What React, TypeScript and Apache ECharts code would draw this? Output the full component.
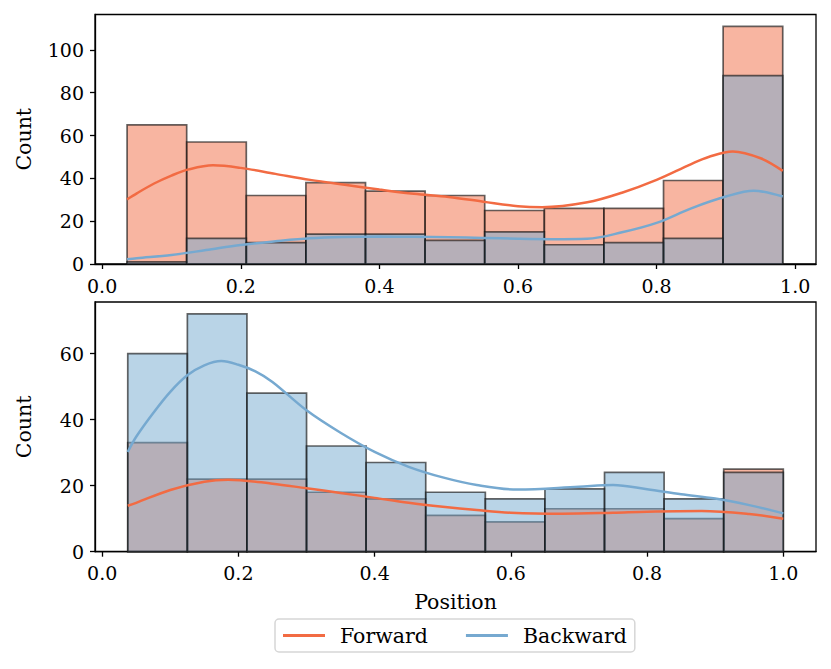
import React, { useEffect, useRef } from "react";
import * as echarts from "echarts";

// ---- data ----
const binCount = 11;
const topRange = [0.036, 0.982];
const bottomRange = [0.0376, 1.0];

const topForward = [65, 57, 32, 38, 34, 32, 25, 26, 26, 39, 111];
const topBackward = [1, 12, 10, 14, 14, 11, 15, 9, 10, 12, 88];
const bottomForward = [33, 22, 22, 18, 16, 11, 9, 13, 13, 10, 25];
const bottomBackward = [60, 72, 48, 32, 27, 18, 16, 19, 24, 16, 24];

const topForwardKde = [
  [0.036, 30.2], [0.05, 33.0], [0.075, 37.6], [0.1, 41.3], [0.125, 44.2], [0.16, 46.1],
  [0.2, 44.9], [0.25, 42.1], [0.3, 39.3], [0.35, 37.0], [0.4, 34.8],
  [0.45, 32.8], [0.5, 31.3], [0.55, 29.1], [0.6, 27.0], [0.635, 26.5], [0.7, 28.8],
  [0.75, 33.3], [0.8, 39.3], [0.85, 46.7], [0.875, 50.0], [0.91, 52.6],
  [0.95, 49.4], [0.982, 43.5],
];
const topBackwardKde = [
  [0.036, 2.2], [0.05, 2.7], [0.1, 4.2], [0.15, 6.5], [0.2, 8.9], [0.25, 10.6],
  [0.3, 12.0], [0.35, 12.6], [0.4, 12.8], [0.45, 12.7], [0.5, 12.5], [0.55, 12.2],
  [0.6, 11.8], [0.65, 11.6], [0.7, 11.8], [0.75, 14.8], [0.8, 19.2], [0.85, 26.0],
  [0.9, 31.5], [0.94, 34.2], [0.982, 31.5],
];
const bottomBackwardKde = [
  [0.0376, 30.2], [0.05, 34.8], [0.075, 42.0], [0.1, 48.4], [0.125, 53.4], [0.15, 56.4],
  [0.175, 57.7], [0.2, 56.6], [0.225, 54.6], [0.25, 51.4], [0.3, 42.8], [0.35, 36.0],
  [0.4, 30.2], [0.45, 25.7], [0.5, 22.5], [0.55, 20.2], [0.61, 18.8],
  [0.7, 19.7], [0.75, 20.2], [0.8, 18.9], [0.85, 17.4], [0.9, 16.1], [0.95, 14.1],
  [1.0, 11.6],
];
const bottomForwardKde = [
  [0.0376, 13.9], [0.05, 14.8], [0.1, 18.7], [0.15, 21.2], [0.185, 21.8],
  [0.25, 20.6], [0.3, 19.2], [0.35, 17.8], [0.4, 16.3], [0.45, 14.8], [0.5, 13.6],
  [0.55, 12.6], [0.6, 11.8], [0.675, 11.5], [0.75, 11.8], [0.8, 12.1],
  [0.88, 12.3], [0.95, 11.4], [1.0, 10.0],
];

const xTicks = [0, 0.2, 0.4, 0.6, 0.8, 1.0];
const topYTicks = [0, 20, 40, 60, 80, 100];
const bottomYTicks = [0, 20, 40, 60];

const FONT = "DejaVu Serif";
const TICK_FS = 19;
const LABEL_FS = 20.5;
const ORANGE = "#f26b43";
const BLUE = "#76a9d0";

function histData(range: number[], counts: number[]) {
  const w = (range[1] - range[0]) / binCount;
  return counts.map((c, i) => [range[0] + i * w, range[0] + (i + 1) * w, c]);
}

function histSeries(name: string, idx: number, data: number[][], fill: string) {
  return {
    type: "custom",
    name,
    xAxisIndex: idx,
    yAxisIndex: idx,
    data,
    encode: { x: [0, 1], y: 2 },
    z: 2,
    renderItem: (params: any, api: any) => {
      const p0 = api.coord([api.value(0), api.value(2)]);
      const p1 = api.coord([api.value(1), 0]);
      return {
        type: "rect",
        shape: { x: p0[0], y: p0[1], width: p1[0] - p0[0], height: p1[1] - p0[1] },
        style: { fill, stroke: "rgba(20,20,20,0.65)", lineWidth: 1.7 },
      };
    },
  };
}

function kdeSeries(name: string, idx: number, data: number[][], color: string) {
  return {
    type: "line",
    name,
    xAxisIndex: idx,
    yAxisIndex: idx,
    data,
    smooth: 0.35,
    showSymbol: false,
    symbol: "none",
    z: 5,
    color,
    lineStyle: { color, width: 2.5 },
  };
}

function xAxis(idx: number, min: number, max: number, withName: boolean) {
  return {
    type: "value",
    gridIndex: idx,
    min,
    max,
    name: withName ? "Position" : "",
    nameLocation: "middle",
    nameGap: 40,
    nameTextStyle: { fontFamily: FONT, fontSize: LABEL_FS, color: "#000" },
    axisLine: { show: true, onZero: false, lineStyle: { color: "#000", width: 1.3 } },
    axisTick: { show: true, length: 5, customValues: xTicks, lineStyle: { color: "#000", width: 1.3 } },
    axisLabel: {
      customValues: xTicks,
      formatter: (v: number) => v.toFixed(1),
      fontFamily: FONT,
      fontSize: TICK_FS,
      color: "#000",
      margin: 12,
    },
    splitLine: { show: false },
  };
}

function yAxis(idx: number, max: number, ticks: number[]) {
  return {
    type: "value",
    gridIndex: idx,
    min: 0,
    max,
    name: "Count",
    nameLocation: "middle",
    nameGap: 61,
    nameRotate: 90,
    nameTextStyle: { fontFamily: FONT, fontSize: LABEL_FS, color: "#000" },
    axisLine: { show: true, onZero: false, lineStyle: { color: "#000", width: 1.3 } },
    axisTick: { show: true, length: 5, customValues: ticks, lineStyle: { color: "#000", width: 1.3 } },
    axisLabel: {
      customValues: ticks,
      fontFamily: FONT,
      fontSize: TICK_FS,
      color: "#000",
      margin: 11,
    },
    splitLine: { show: false },
  };
}

export default function App() {
  const ref = useRef<HTMLDivElement>(null);
  useEffect(() => {
    document.body.style.margin = "0";
    const chart = echarts.init(ref.current!, null, { renderer: "svg" });
    chart.setOption({
      animation: false,
      backgroundColor: "#fff",
      grid: [
        { left: 95, right: 15, top: 14.5, height: 249.5, show: true, borderColor: "#000", borderWidth: 1.3 },
        { left: 95, right: 15, top: 302, height: 249.7, show: true, borderColor: "#000", borderWidth: 1.3 },
      ],
      xAxis: [xAxis(0, -0.0103, 1.03, false), xAxis(1, -0.0105, 1.048, true)],
      yAxis: [yAxis(0, 116.55, topYTicks), yAxis(1, 75.6, bottomYTicks)],
      legend: {
        data: ["Forward", "Backward"],
        left: 275,
        top: 619,
        icon: "rect",
        itemWidth: 42,
        itemHeight: 3,
        itemGap: 38,
        borderColor: "#d6d6d6",
        borderWidth: 1.5,
        borderRadius: 4,
        padding: [6, 8, 6, 8],
        textStyle: { fontFamily: FONT, fontSize: LABEL_FS, color: "#000", padding: [0, 0, 0, 10] },
      },
      series: [
        histSeries("Forward hist", 0, histData(topRange, topForward), "rgba(242,108,67,0.5)"),
        histSeries("Backward hist", 0, histData(topRange, topBackward), "rgba(116,169,207,0.5)"),
        histSeries("Forward hist", 1, histData(bottomRange, bottomForward), "rgba(242,108,67,0.5)"),
        histSeries("Backward hist", 1, histData(bottomRange, bottomBackward), "rgba(116,169,207,0.5)"),
        kdeSeries("Forward", 0, topForwardKde, ORANGE),
        kdeSeries("Backward", 0, topBackwardKde, BLUE),
        kdeSeries("Forward", 1, bottomForwardKde, ORANGE),
        kdeSeries("Backward", 1, bottomBackwardKde, BLUE),
      ],
    });
    return () => chart.dispose();
  }, []);
  return <div ref={ref} style={{ width: 831, height: 669 }} />;
}
